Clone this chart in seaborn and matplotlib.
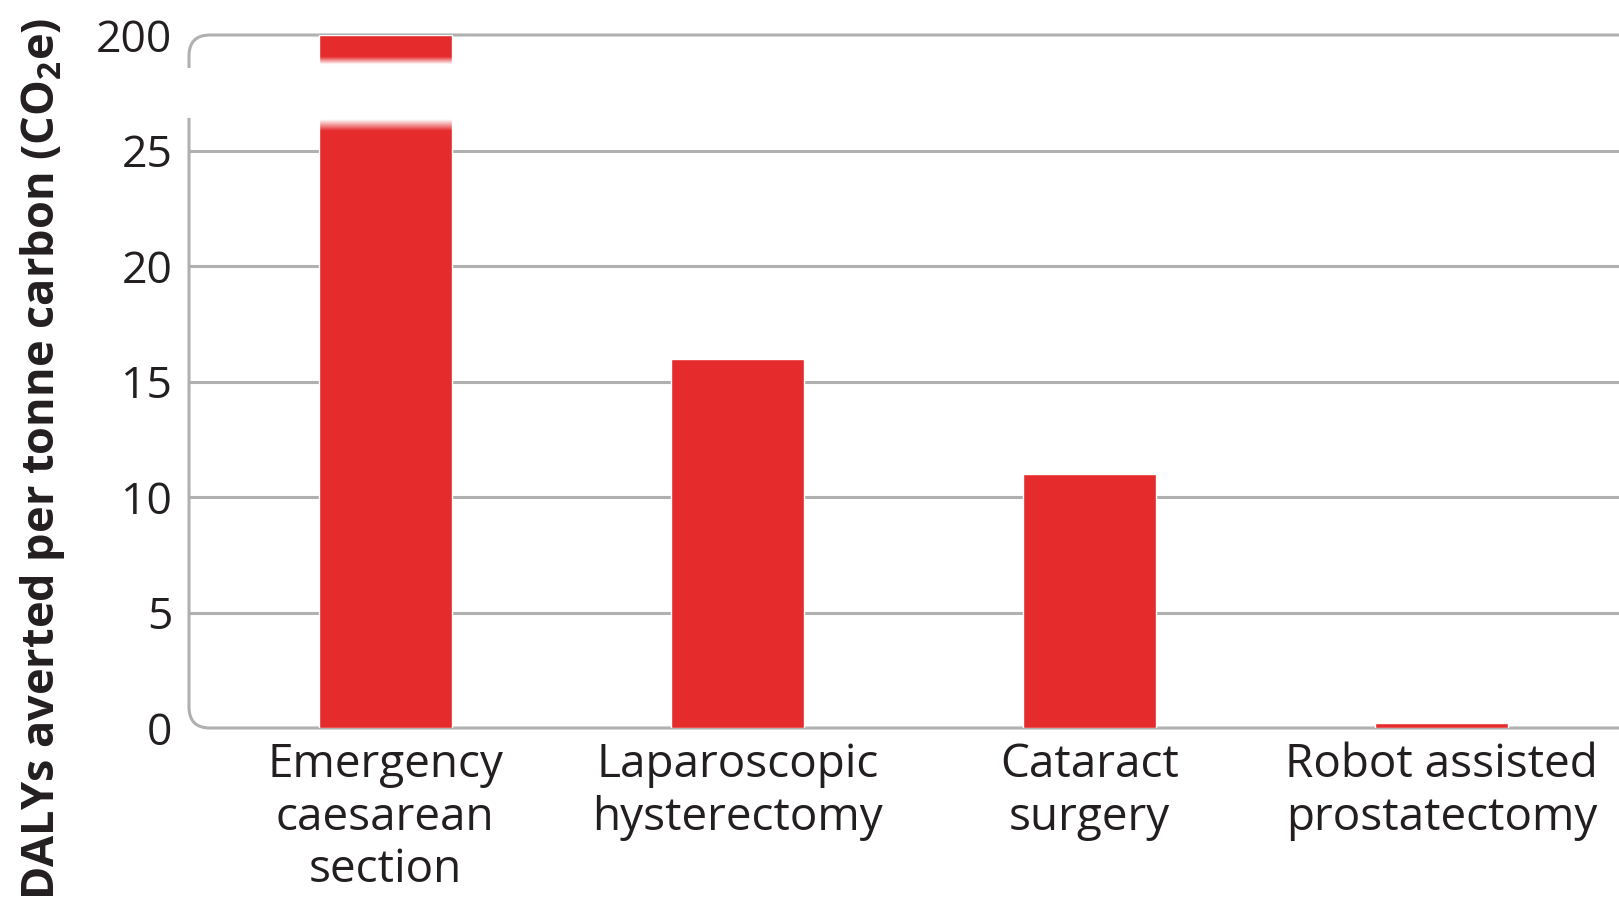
import numpy as np
import matplotlib
matplotlib.use("Agg")
import matplotlib.pyplot as plt
import seaborn as sns
from matplotlib.path import Path
from matplotlib.patches import PathPatch
from matplotlib.transforms import IdentityTransform

# data
procedures = ["Emergency\ncaesarean\nsection", "Laparoscopic\nhysterectomy",
              "Cataract\nsurgery", "Robot assisted\nprostatectomy"]
dalys = [200, 16, 11, 0.2]
low_ticks = [0, 5, 10, 15, 20, 25]
high_ticks = [200]

RED = "#e62b2d"
GREY = "#b0b0b0"
TXT = "#231f20"

sns.set_theme(style="white")
plt.rcParams["font.family"] = ["Open Sans", "DejaVu Sans"]
plt.rcParams["mathtext.default"] = "regular"

W, H = 1619, 898
fig = plt.figure(figsize=(W / 100, H / 100), dpi=100)

# pixel layout (from top-left)
x_left = 189
y_zero, y_low_top = 728, 118
y_200, y_high_bot = 35, 68

ax = fig.add_axes([x_left / W, (H - y_zero) / H, (W - x_left) / W, (y_zero - y_low_top) / H])
ax_top = fig.add_axes([x_left / W, (H - y_high_bot) / H, (W - x_left) / W, (y_high_bot - y_200) / H])

df = {"procedure": procedures, "dalys": dalys}
for a in (ax, ax_top):
    sns.barplot(x="procedure", y="dalys", data=df, color=RED, saturation=1,
                width=0.378, ax=a, zorder=3)
    a.set_xlim(-0.557, 3.503)
    a.set_xlabel("")
    a.set_ylabel("")
    a.set_facecolor("none")
    for s in a.spines.values():
        s.set_visible(False)
    a.tick_params(axis="both", length=0, labelsize=32, colors=TXT, pad=12)

# scale per pixel: 25 units over 577 px
ppu = (y_zero - 150.7) / 25
ax.set_ylim(0, (y_zero - y_low_top) / ppu)
ax.set_yticks(low_ticks)
ax.tick_params(axis="x", pad=10, labelsize=33)
ax.set_xticklabels(procedures, linespacing=1.19)
ax.yaxis.grid(True, color=GREY, lw=2.2)
ax.set_axisbelow(True)
ax.get_ygridlines()[0].set_visible(False)

ax_top.set_ylim(200 - (y_high_bot - y_200) / 10, 200)
ax_top.set_yticks(high_ticks)
ax_top.set_xticks([])

# fade the broken bar ends to white
bar = ax.patches[0]
bx0, bw = bar.get_x(), bar.get_width()
fade = np.ones((64, 1, 4))
lo_top = ax.get_ylim()[1]
fade[:, 0, 3] = np.clip(np.linspace(1.2, -0.9, 64), 0, 1)  # top white -> clear
ax.imshow(fade, extent=(bx0 - 0.01, bx0 + bw + 0.01, lo_top - 1.0, lo_top),
          aspect="auto", zorder=4, interpolation="bilinear")
fade2 = np.ones((64, 1, 4))
t_lo = ax_top.get_ylim()[0]
fade2[:, 0, 3] = np.clip(np.linspace(-1.0, 1.5, 64), 0, 1)
ax_top.imshow(fade2, extent=(bx0 - 0.01, bx0 + bw + 0.01, t_lo, t_lo + 1.8),
              aspect="auto", zorder=4, interpolation="bilinear")
ax.set_xlim(-0.557, 3.503)
ax_top.set_xlim(-0.557, 3.503)
ax.set_ylim(0, lo_top)
ax_top.set_ylim(t_lo, 200)

# rounded left axis corners
r = 21
lw_px = 2.2
x0 = x_left
def yd(y_px):
    return H - y_px
low_path = Path([(x0, yd(y_low_top)), (x0, yd(y_zero) + r), (x0, yd(y_zero)), (x0 + r, yd(y_zero)), (W, yd(y_zero))],
                [Path.MOVETO, Path.LINETO, Path.CURVE3, Path.CURVE3, Path.LINETO])
ax.add_patch(PathPatch(low_path, transform=IdentityTransform(), fill=False, edgecolor=GREY,
                       lw=lw_px, clip_on=False, zorder=2))
top_path = Path([(x0, yd(y_high_bot)), (x0, yd(y_200) - r), (x0, yd(y_200)), (x0 + r, yd(y_200)), (W, yd(y_200))],
                [Path.MOVETO, Path.LINETO, Path.CURVE3, Path.CURVE3, Path.LINETO])
ax_top.add_patch(PathPatch(top_path, transform=IdentityTransform(), fill=False, edgecolor=GREY,
                           lw=lw_px, clip_on=False, zorder=2))

fig.text(43 / W, (H - 459) / H, "DALYs averted per tonne carbon (CO$_2$e)", rotation=90,
         ha="center", va="center", fontsize=32.5, fontweight="bold", color=TXT)

fig.savefig("out.png", dpi=100)
